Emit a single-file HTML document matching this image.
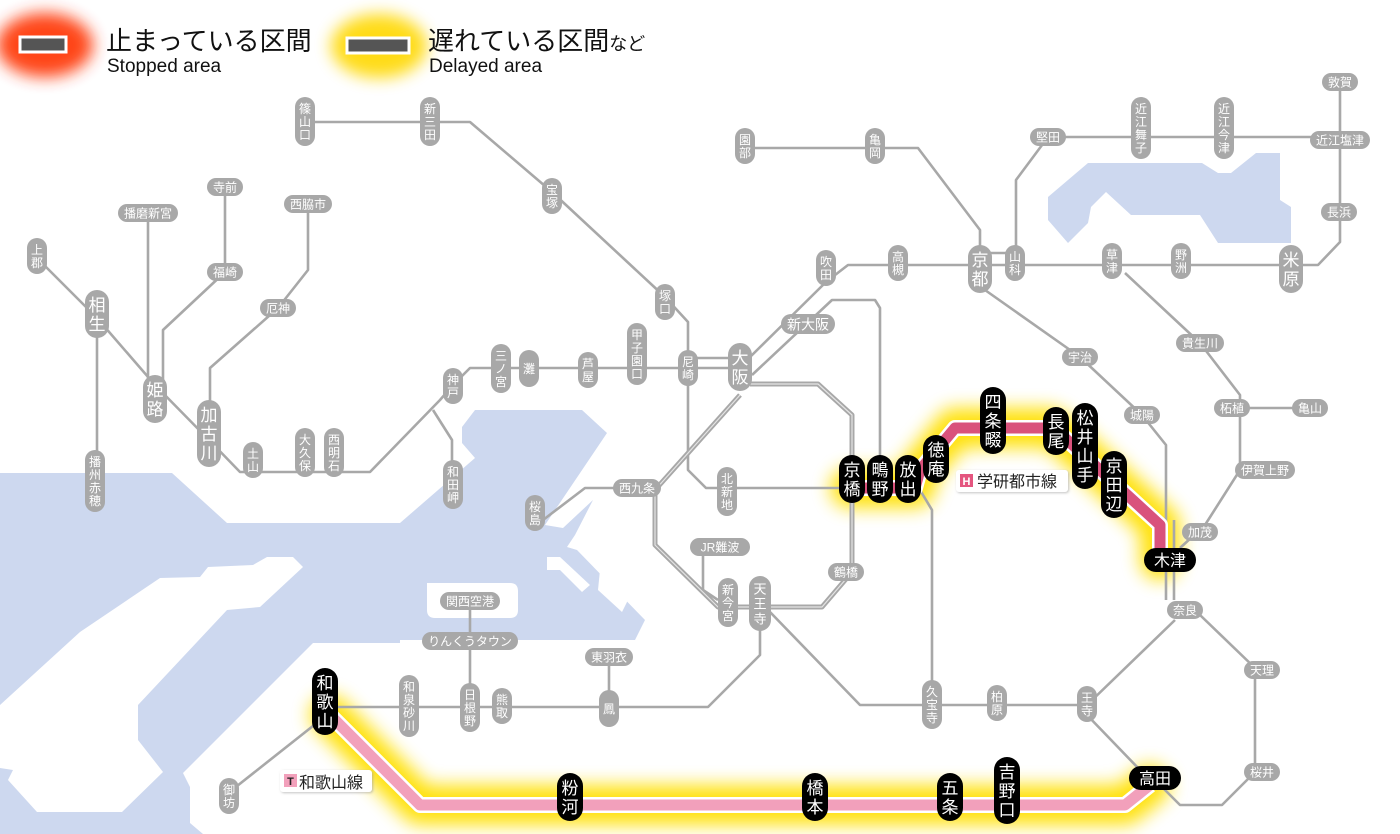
<!DOCTYPE html>
<html><head><meta charset="utf-8">
<style>
html,body{margin:0;padding:0;background:#fff;}
svg{display:block;}
text{font-family:"Liberation Sans","Noto Sans CJK JP",sans-serif;}
.st text{fill:#fff;text-anchor:middle;}
</style></head>
<body>
<svg id="m" width="1400" height="834" viewBox="0 0 1400 834" xmlns="http://www.w3.org/2000/svg">
<defs>
<filter id="bl" x="-30%" y="-40%" width="160%" height="180%"><feGaussianBlur stdDeviation="8"/></filter>
<filter id="bl2" x="-50%" y="-50%" width="200%" height="200%"><feGaussianBlur stdDeviation="9"/></filter>
<filter id="sh" x="-10%" y="-30%" width="120%" height="160%"><feDropShadow dx="1" dy="1" stdDeviation="1.2" flood-color="#999" flood-opacity="0.6"/></filter>
</defs>
<rect width="1400" height="834" fill="#fff"/>
<!-- sea -->
<g fill="#cdd8ef">
<path d="M0,473 H172 L227,523 H400 L475,458 L462,443 V427 L475,410 H582 L607,433 L545,525 L563,528 L593,500 L575,535 L567,547 L577,550 L645,620 L635,640 H400 V643 H313 L183,773 L190,787 V823 L203,834 H0 Z"/>
<path d="M1048,197 L1088,163 H1202 L1218,173 H1231 L1256,153 H1280 V200 L1291,207 V243 H1218 L1200,215 H1131 L1106,192 L1091,207 L1088,223 L1068,243 L1048,220 Z"/>
</g>
<g fill="#fff">
<path d="M303,567 L293,557 H267 L253,565 L208,567 L200,577 L160,578 L80,632 L0,705 V768 L13,770 L8,780 L37,812 H122 L163,772 L138,740 V705 L227,610 L260,607 Z"/>
<path d="M427,583 H510 Q518,583 518,591 V610 Q518,618 510,618 H435 Q427,618 427,610 Z"/>
<path d="M547,557 H560 L590,585 L582,592 L560,570 H547 Z"/>
<path d="M600,570 L628,600 L622,612 L598,590 Z"/>
</g>
<!-- glows -->
<g fill="none" stroke-linejoin="round" stroke-linecap="round">
<path d="M850,488 H915 L920,470 L955,428 H1050 L1065,438 L1160,525 V560" stroke="#ffe000" stroke-width="40" filter="url(#bl2)" opacity="0.95"/>
<path d="M330,715 L420,805 H1125 L1150,785" stroke="#ffe000" stroke-width="40" filter="url(#bl2)" opacity="0.95"/>
</g>
<!-- gray lines -->
<g fill="none" stroke="#a8a8a8" stroke-width="2.6" stroke-linejoin="round">
<path d="M305,122 H470 L552,192 L665,297 L688,322 V470 L706,488 H852"/>
<path d="M37,258 L97,318 L155,385 L209,440 L240,472 H370 L440,400 L453,385 L470,368 H740"/>
<path d="M688,358 H740"/>
<path d="M97,318 V480"/>
<path d="M148,213 V389"/>
<path d="M225,187 V272 L163,330 V389"/>
<path d="M308,204 V270 L278,308 L210,368 V428"/>
<path d="M433,410 L452,440 V485"/>
<path d="M745,362 L826,282 L848,265 H1318 L1340,242 V82"/>
<path d="M752,375 L832,300 H875 L880,308 V482"/>
<path d="M745,148 H918 L980,230 V260"/>
<path d="M1048,137 H1340 M1048,137 L1016,180 V265 M980,253 H1015"/>
<path d="M985,290 L1080,357 L1142,415 L1166,445 V600 M1174,520 V600"/>
<path d="M1125,273 L1200,343 L1240,395 V470 L1205,525 L1180,548 M1240,408 H1310"/>
<path d="M637,488 H585 L543,520"/>
<path d="M703,547 V590 L718,600"/>
<path d="M760,607 V655 L708,707 H325"/>
<path d="M770,612 L860,705 H1087 L1175,620 M1087,715 L1140,770"/>
<path d="M1200,615 L1255,668 V772 L1222,805 H1180 L1160,785"/>
<path d="M920,490 L932,510 V705"/>
<path d="M470,601 V705 M609,657 V709"/>
<path d="M318,722 L232,790"/>
</g>
<g fill="none" stroke="#a8a8a8" stroke-width="5" stroke-linejoin="round">
<path d="M750,384 H818 L852,415 V572 L822,607 H718 L655,545 V490 L740,395"/>
</g>
<g fill="none" stroke="#e4e4e4" stroke-width="1.2" stroke-linejoin="round">
<path d="M750,384 H818 L852,415 V572 L822,607 H718 L655,545 V490 L740,395"/>
</g>
<!-- highlighted routes -->
<g fill="none" stroke-linejoin="round">
<path d="M850,488 H915 L920,470 L955,428 H1050 L1065,438 L1160,525 V560" stroke="#fff" stroke-width="16"/>
<path d="M850,488 H915 L920,470 L955,428 H1050 L1065,438 L1160,525 V560" stroke="#d9527c" stroke-width="11"/>
<path d="M330,715 L420,805 H1125 L1150,785" stroke="#fff" stroke-width="16"/>
<path d="M330,715 L420,805 H1125 L1150,785" stroke="#f2a0bb" stroke-width="11"/>
</g>
<!-- legend -->
<ellipse cx="45" cy="45" rx="48" ry="32" fill="#ff3000" filter="url(#bl)" opacity="0.9"/>
<rect x="20" y="37" width="46" height="15" fill="#555" stroke="#fff" stroke-width="3"/>
<ellipse cx="379" cy="46" rx="48" ry="32" fill="#ffd800" filter="url(#bl)" opacity="0.9"/>
<rect x="347" y="38" width="62" height="15" fill="#555" stroke="#fff" stroke-width="3"/>
<text x="106" y="50" font-size="26" fill="#111">止まっている区間</text>
<text x="107" y="72" font-size="19" fill="#111">Stopped area</text>
<text x="428" y="50" font-size="26" fill="#111">遅れている区間<tspan font-size="18">など</tspan></text>
<text x="429" y="72" font-size="19" fill="#111">Delayed area</text>
<!-- line labels -->
<g filter="url(#sh)"><rect x="956" y="470" width="112" height="22" rx="3" fill="#fff"/><rect x="280" y="770" width="92" height="22" rx="3" fill="#fff"/></g>
<rect x="960" y="474" width="13" height="13" fill="#e4557f"/>
<text x="966.5" y="485" font-size="11" fill="#fff" text-anchor="middle" font-weight="bold">H</text>
<text x="977" y="487" font-size="16" fill="#222">学研都市線</text>
<rect x="284" y="774" width="13" height="13" fill="#f2a0bb"/>
<text x="290.5" y="785" font-size="11" fill="#222" text-anchor="middle" font-weight="bold">T</text>
<text x="299" y="788" font-size="16" fill="#222">和歌山線</text>
<g id="st" class="st"></g>
</svg>
<script>
var NS="http://www.w3.org/2000/svg",G=document.getElementById("st");
function el(t,a,txt){var e=document.createElementNS(NS,t);for(var k in a)e.setAttribute(k,a[k]);if(txt)e.textContent=txt;G.appendChild(e);return e;}
function vp(cx,top,t,o){o=o||{};var f=o.f||12,p=o.p||13,w=o.w||20,fill=o.fill||"#a8a8a8";var c=Array.from(t),n=c.length;var h=o.h||(n*p+10);
el("rect",{x:cx-w/2,y:top,width:w,height:h,rx:w/2,fill:fill});
var y0=top+(h-n*p)/2+p*0.84;for(var i=0;i<n;i++)el("text",{x:cx,y:y0+i*p,"font-size":f},c[i]);}
function hp(cx,cy,t,o){o=o||{};var f=o.f||12,h=o.h||18,fill=o.fill||"#a8a8a8";var n=Array.from(t).length;var w=o.w||(n*f+12);
el("rect",{x:cx-w/2,y:cy-h/2,width:w,height:h,rx:h/2,fill:fill});el("text",{x:cx,y:cy+f*0.38,"font-size":f},t);}
var V=[[305,97,"篠山口"],[430,97,"新三田"],[552,178,"宝塚"],[665,284,"塚口"],[688,350,"尼崎"],[637,323,"甲子園口"],[588,352,"芦屋"],[501,344,"三ノ宮"],[453,368,"神戸"],[453,460,"和田岬"],[334,428,"西明石"],[305,428,"大久保"],[253,442,"土山"],[37,238,"上郡"],[95,450,"播州赤穂"],[826,250,"吹田"],[898,245,"高槻"],[1015,245,"山科"],[1112,243,"草津"],[1181,243,"野洲"],[745,128,"園部"],[875,128,"亀岡"],[1141,97,"近江舞子"],[1224,97,"近江今津"],[727,467,"北新地"],[535,495,"桜島"],[728,578,"新今宮"],[409,675,"和泉砂川"],[470,683,"日根野"],[502,688,"熊取"],[229,778,"御坊"],[932,680,"久宝寺"],[997,685,"柏原"],[1087,686,"王寺"]];
V.forEach(function(a){vp(a[0],a[1],a[2]);});
vp(529,350,"灘",{h:37});vp(609,690,"鳳",{h:37});
vp(760,576,"天王寺",{w:22,f:13,p:15});
var L={w:24,f:17,p:19};
[[980,245,"京都"],[1291,245,"米原"],[740,343,"大阪"],[97,290,"相生"],[155,375,"姫路"],[209,400,"加古川"]].forEach(function(a){vp(a[0],a[1],a[2],L);});
var H=[[148,213,"播磨新宮"],[225,187,"寺前"],[225,272,"福崎"],[308,204,"西脇市"],[278,308,"厄神"],[1048,137,"堅田"],[1340,82,"敦賀"],[1340,140,"近江塩津"],[1339,212,"長浜"],[1080,357,"宇治"],[1200,343,"貴生川"],[1142,415,"城陽"],[1232,408,"柘植"],[1310,408,"亀山"],[1265,470,"伊賀上野"],[1200,532,"加茂"],[1185,610,"奈良"],[1262,670,"天理"],[1262,772,"桜井"],[637,488,"西九条"],[720,547,"JR難波"],[846,572,"鶴橋"],[470,601,"関西空港"],[470,641,"りんくうタウン"],[609,657,"東羽衣"]];
H.forEach(function(a){hp(a[0],a[1],a[2]);});
hp(808,324,"新大阪",{f:14,h:20});
var B={w:26,f:17,p:19,fill:"#000"};
[[852,455,"京橋"],[880,455,"鴫野"],[908,455,"放出"],[936,435,"徳庵"],[993,387,"四条畷"],[1056,407,"長尾"],[1085,403,"松井山手"],[1114,451,"京田辺"],[325,668,"和歌山"],[570,773,"粉河"],[815,773,"橋本"],[950,773,"五条"],[1007,757,"吉野口"]].forEach(function(a){vp(a[0],a[1],a[2],B);});
hp(1170,560,"木津",{f:16,h:24,w:52,fill:"#000"});
hp(1155,778,"高田",{f:16,h:24,w:52,fill:"#000"});
</script>
</body></html>
